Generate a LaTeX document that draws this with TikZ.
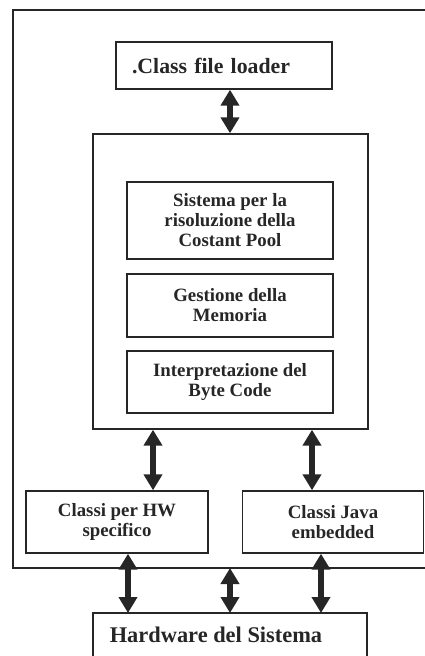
\documentclass[tikz,border=0pt]{standalone}
\usepackage{fontspec}
\setmainfont{Liberation Serif}
\usetikzlibrary{arrows.meta}
\begin{document}
\begin{tikzpicture}[x=1pt,y=-1pt,
  frame/.style={draw, line width=1.4pt, color=black!85},
  box/.style={draw=black!85, line width=1.4pt, inner sep=0pt, align=center,
    text=black!85, font=\bfseries\fontsize{18.8}{20}\selectfont},
  bigtext/.style={text=black!85, font=\bfseries\fontsize{22.4}{24}\selectfont, inner sep=0pt},
  dbl/.style={black!85, line width=6pt, {Triangle[width=18pt,length=16pt]}-{Triangle[width=18pt,length=16pt]}}]
\useasboundingbox (0,0) rectangle (425,656);
% outer frame (open on the right)
\coordinate (ftr) at (425,10);
\coordinate (fbr) at (425,568);
\draw[frame] (ftr) -| (13,568) -- (fbr);
% class file loader
\node[box, minimum height=47pt, text width=184pt, inner xsep=16pt, align=left,
  font=\bfseries\fontsize{21.8}{24}\selectfont] (cfl) at (224,65.5) {.Class file loader};
% middle box
\node[box, minimum width=275pt, minimum height=295pt] (mid) at (230.5,281.5) {};
\node[box, minimum width=206pt, minimum height=77pt] (csp) at (230,220.5) {Sistema per la\\risoluzione della\\Costant Pool};
\node[box, minimum width=206pt, minimum height=63pt] (mem) at (230,305.5) {Gestione della\\Memoria};
\node[box, minimum width=206pt, minimum height=62pt] (bc) at (230,382) {Interpretazione del\\Byte Code};
% lower boxes
\node[box, minimum width=182pt, minimum height=62pt] (hws) at (117,522) {Classi per HW\\specifico};
\node[box, minimum width=181pt, minimum height=62pt] (cje) at (333,522) {Classi Java\\embedded};
% hardware box (bottom cut off)
\coordinate (hwtl) at (93,613);
\coordinate (hwtr) at (367,613);
\draw[frame] (93,660) -- (hwtl) -- (hwtr) -- (367,660);
\node[bigtext] (hw) at (216,635) {Hardware del Sistema};
% arrow columns
\coordinate (x1) at (153,0);
\coordinate (x2) at (312,0);
\coordinate (x3) at (128,0);
\coordinate (x4) at (321,0);
\coordinate (x5) at (230,0);
\draw[dbl] (cfl.south -| x5) -- (mid.north -| x5);
\draw[dbl] (mid.south -| x1) -- (hws.north -| x1);
\draw[dbl] (mid.south -| x2) -- (cje.north -| x2);
\draw[dbl] (hws.south -| x3) -- (hwtl -| x3);
\draw[dbl] (cje.south -| x4) -- (hwtl -| x4);
\draw[dbl] (fbr -| x5) -- (hwtl -| x5);
\end{tikzpicture}
\end{document}
